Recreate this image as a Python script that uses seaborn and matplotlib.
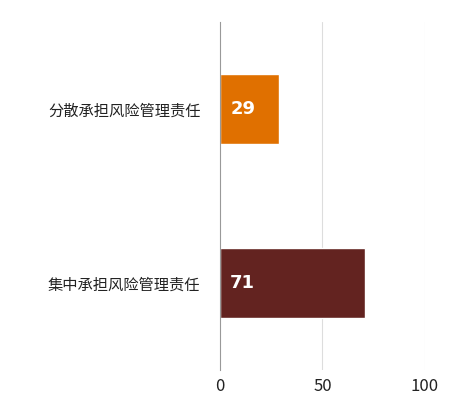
import matplotlib
matplotlib.use("Agg")
import matplotlib.pyplot as plt
import seaborn as sns
import pandas as pd

categories = ["分散承担风险管理责任", "集中承担风险管理责任"]
values = [29, 71]
colors = ["#E07000", "#632320"]
xticks = [0, 50, 100]

sns.set_style("white")
plt.rcParams['font.family'] = ['Noto Sans CJK SC', 'DejaVu Sans']

df = pd.DataFrame({"cat": categories, "val": values})
fig = plt.figure(figsize=(4.68, 4.16), dpi=100)
ax = fig.add_axes([0.47, 0.111, 0.438, 0.836])
sns.barplot(data=df, y="cat", x="val", hue="cat", palette=colors, width=0.4,
            legend=False, ax=ax, saturation=1)
ax.set_xlim(0, 100)
ax.set_ylim(1.5, -0.5)
ax.set_xticks(xticks)
ax.set_xticklabels([str(t) for t in xticks], fontsize=12, color="#222222")
ax.set_yticks([0, 1])
ax.set_yticklabels(categories, fontsize=11, color="#222222")
ax.set_xlabel("")
ax.set_ylabel("")
for x in [50, 100]:
    ax.axvline(x, color="#dddddd", lw=0.8, zorder=0)
for s in ["top", "right", "bottom"]:
    ax.spines[s].set_visible(False)
ax.spines["left"].set_color("#999999")
ax.tick_params(axis="y", length=0, pad=14)
ax.tick_params(axis="x", length=0, pad=6)
# minor ticks at category boundaries
ax.set_yticks([-0.5, 0.5, 1.5], minor=True)
ax.tick_params(axis="y", which="minor", length=5, color="#999999", direction="out")
for i, v in enumerate(values):
    ax.text(5, i, str(v), color="white", fontsize=13, fontweight="bold",
            va="center", ha="left", family="DejaVu Sans")
fig.savefig("out.png", dpi=100)
